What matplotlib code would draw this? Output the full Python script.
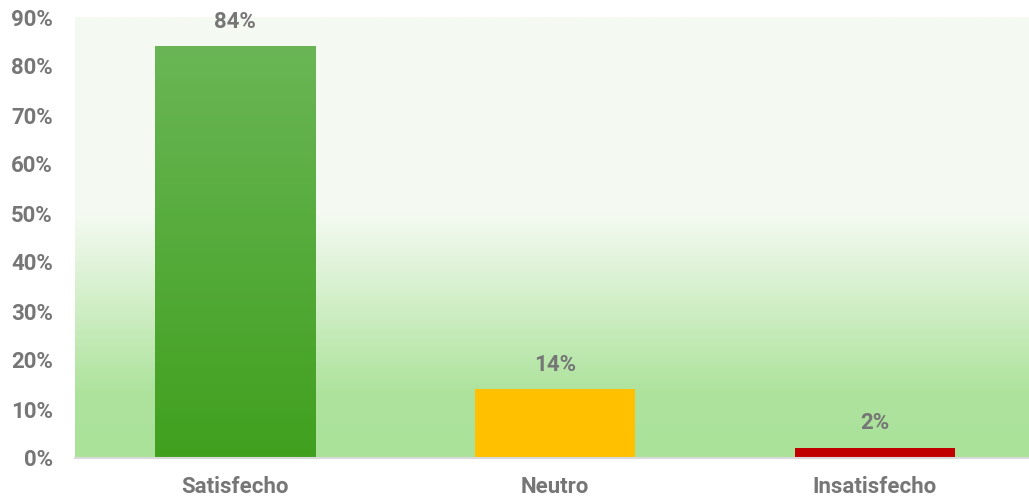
import numpy as np
import matplotlib.pyplot as plt
import matplotlib.patheffects as pe
from matplotlib.colors import LinearSegmentedColormap

categories = ['Satisfecho', 'Neutro', 'Insatisfecho']
values = [0.84, 0.14, 0.02]
labels = ['84%', '14%', '2%']
colors = ['#55ad3a', '#ffc000', '#c00000']
yticks = [0, 0.1, 0.2, 0.3, 0.4, 0.5, 0.6, 0.7, 0.8, 0.9]

plt.rcParams['font.family'] = ['Roboto', 'DejaVu Sans']
grey = '#767676'

fig = plt.figure(figsize=(10.29, 4.99), dpi=100)
ax = fig.add_axes([75/1029, 41/499, 960/1029, 441/499])

x = np.arange(len(categories))

# background gradient: pale on top half, green towards the bottom
bg = LinearSegmentedColormap.from_list('bg', [(0, '#aae29a'), (0.15, '#aee39d'),
                                               (0.55, '#f4faf1'), (1, '#f5faf2')])
grad = np.linspace(0, 1, 256).reshape(-1, 1)
ax.imshow(grad, cmap=bg, origin='lower', aspect='auto',
          extent=[-0.5, 2.5, 0, 0.9], zorder=0)

shadow = [pe.SimplePatchShadow(offset=(0, -1.5), shadow_rgbFace='#555555', alpha=0.35),
          pe.Normal()]
bars = ax.bar(x, values, width=0.503, color=colors, zorder=2, path_effects=shadow)

# gradient fill for the green bar
gcm = LinearSegmentedColormap.from_list('g', ['#40a01e', '#6ab656'])
b = bars[0]
im = ax.imshow(grad, cmap=gcm, origin='lower', aspect='auto', zorder=3,
               extent=[b.get_x(), b.get_x() + b.get_width(), 0, b.get_height()])
im.set_clip_path(b)
ax.set_xlim(-0.5, 2.5)
ax.set_ylim(0, 0.9)

for xi, v, lab in zip(x, values, labels):
    ax.annotate(lab, (xi, v), xytext=(0, 10), textcoords='offset points',
                ha='center', va='bottom', fontsize=16, fontweight='bold', color=grey)

ax.set_yticks(yticks)
ax.set_yticklabels([f'{int(round(t*100))}%' for t in yticks])
ax.set_xticks(x)
ax.set_xticklabels(categories)
ax.tick_params(length=0, labelsize=16, labelcolor=grey)
ax.tick_params(axis='y', pad=16)
ax.tick_params(axis='x', pad=13)
for t in ax.get_xticklabels() + ax.get_yticklabels():
    t.set_fontweight('bold')

for s in ['top', 'right', 'left']:
    ax.spines[s].set_visible(False)
ax.spines['bottom'].set_color('#d9d9d9')
ax.spines['bottom'].set_linewidth(1.5)
ax.spines['bottom'].set_zorder(4)

fig.savefig('out.png', dpi=100)
